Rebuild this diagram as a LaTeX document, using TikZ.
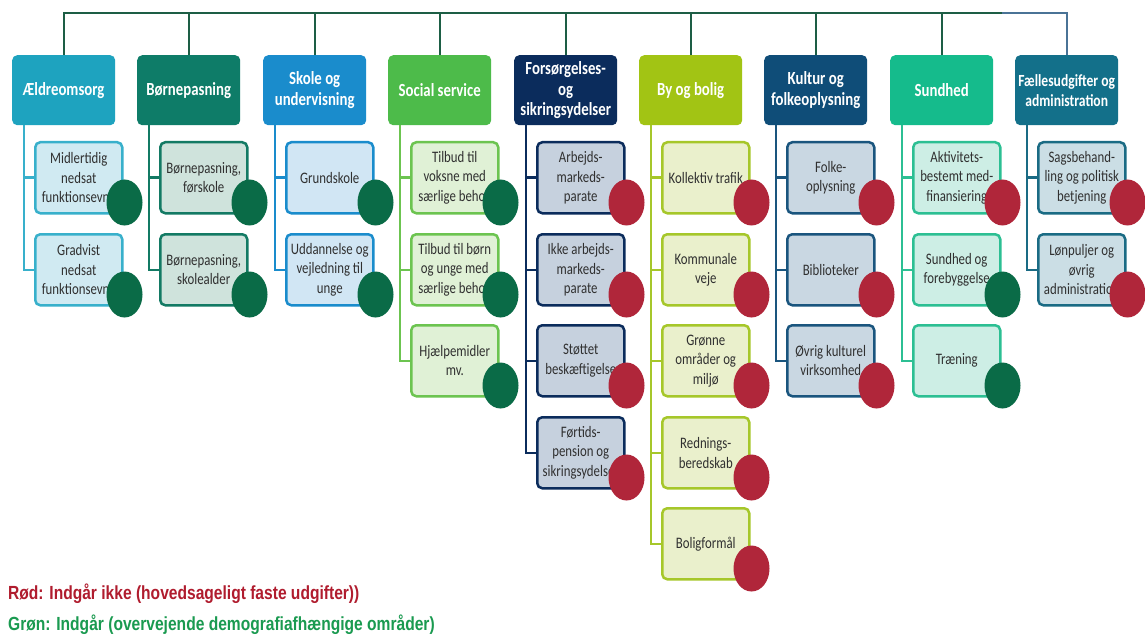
\documentclass[tikz,border=0pt]{standalone}
\usepackage{fontspec}
\usetikzlibrary{shapes.geometric}
\newfontfamily\hfont[FakeStretch=0.8]{Carlito}
\newfontfamily\lfont[FakeStretch=0.82]{Liberation Sans}
\definecolor{hA}{HTML}{1EA3BF}\definecolor{fA}{HTML}{D0EAF2}\definecolor{bA}{HTML}{38B0CB}
\definecolor{hB}{HTML}{0E7C68}\definecolor{fB}{HTML}{CFE3DC}\definecolor{bB}{HTML}{137A64}
\definecolor{hC}{HTML}{1A8CCC}\definecolor{fC}{HTML}{D1E6F4}\definecolor{bC}{HTML}{1A8CCC}
\definecolor{hD}{HTML}{4DBB4A}\definecolor{fD}{HTML}{E0F1D6}\definecolor{bD}{HTML}{6CC450}
\definecolor{hE}{HTML}{0B2C5C}\definecolor{fE}{HTML}{C6D1DE}\definecolor{bE}{HTML}{0B2C5C}
\definecolor{hF}{HTML}{A2C414}\definecolor{fF}{HTML}{EAF0CC}\definecolor{bF}{HTML}{A6C72A}
\definecolor{hG}{HTML}{0F4D78}\definecolor{fG}{HTML}{C9D7E2}\definecolor{bG}{HTML}{1A557E}
\definecolor{hH}{HTML}{15BB8C}\definecolor{fH}{HTML}{CDEEE5}\definecolor{bH}{HTML}{2CBF93}
\definecolor{hI}{HTML}{13708A}\definecolor{fI}{HTML}{CBDEE5}\definecolor{bI}{HTML}{1A6B84}
\definecolor{busc}{HTML}{1D5E45}
\definecolor{busb}{HTML}{4A7396}
\definecolor{dotred}{HTML}{B0263A}
\definecolor{dotgreen}{HTML}{0A6B47}
\definecolor{txt}{HTML}{303030}
\definecolor{legred}{HTML}{B01C2E}
\definecolor{leggreen}{HTML}{1A9A50}
\begin{document}
\begin{tikzpicture}[x=1pt,y=-1pt,
  hdr/.style={draw=none,fill=#1,rounded corners=5pt,minimum width=103pt,minimum height=70pt,
    anchor=north west,text=white,font=\hfont\bfseries\fontsize{18.5}{20.5}\selectfont,align=center,inner sep=0pt},
  child/.style 2 args={draw=#1,fill=#2,rounded corners=5pt,line width=2.5pt,minimum width=87pt,
    minimum height=71pt,anchor=north west,text=txt,font=\hfont\fontsize{16}{19.5}\selectfont,align=center,inner sep=0pt},
  dotR/.style={ellipse,fill=dotred,minimum width=36pt,minimum height=46pt,inner sep=0pt},
  dotG/.style={ellipse,fill=dotgreen,minimum width=36pt,minimum height=46pt,inner sep=0pt},
  bus/.style={draw=busc,line width=2.2pt},
  conn/.style={draw=#1,line width=2.5pt}]
\useasboundingbox[fill=white] (0,0) rectangle (1145,639);
\coordinate (busy) at (0,13);
% headers
\node[hdr=hA] (h1) at (12,55) {Ældreomsorg};
\node[hdr=hB] (h2) at (137,55) {Børnepasning};
\node[hdr=hC] (h3) at (263,55) {Skole og\\undervisning};
\node[hdr=hD] (h4) at (388,55) {Social service};
\node[hdr=hE] (h5) at (514,55) {Forsørgelses-\\og\\sikringsydelser};
\node[hdr=hF] (h6) at (639,55) {By og bolig};
\node[hdr=hG] (h7) at (764,55) {Kultur og\\folkeoplysning};
\node[hdr=hH] (h8) at (890,55) {Sundhed};
\node[hdr=hI,font=\hfont\bfseries\fontsize{17}{20}\selectfont] (h9) at (1015,55) {Fællesudgifter og\\administration};
% bus
\draw[bus] (h1.north) -- (h1.north |- busy) -- (h8.north |- busy);
\coordinate (bmid) at ([xshift=60pt]h8.north |- busy);
\draw[bus] (h8.north |- busy) -- (bmid);
\draw[bus,draw=busb] (bmid) -- (h9.north |- busy) -- (h9.north);
\foreach \i in {2,...,8} {\draw[bus] (h\i.north) -- (h\i.north |- busy);}
% column 1
\node[child={bA}{fA}] (c11) at (34,141) {Midlertidig\\nedsat\\funktionsevne};
\node[child={bA}{fA}] (c12) at (34,233) {Gradvist\\nedsat\\funktionsevne};
% column 2
\node[child={bB}{fB}] (c21) at (159,141) {Børnepasning,\\førskole};
\node[child={bB}{fB}] (c22) at (159,233) {Børnepasning,\\skolealder};
% column 3
\node[child={bC}{fC}] (c31) at (285,141) {Grundskole};
\node[child={bC}{fC}] (c32) at (285,233) {Uddannelse og\\vejledning til\\unge};
% column 4
\node[child={bD}{fD}] (c41) at (410,141) {Tilbud til\\voksne med\\særlige behov};
\node[child={bD}{fD}] (c42) at (410,233) {Tilbud til børn\\og unge med\\særlige behov};
\node[child={bD}{fD}] (c43) at (410,324) {Hjælpemidler\\mv.};
% column 5
\node[child={bE}{fE}] (c51) at (536,141) {Arbejds-\\markeds-\\parate};
\node[child={bE}{fE}] (c52) at (536,233) {Ikke arbejds-\\markeds-\\parate};
\node[child={bE}{fE}] (c53) at (536,324) {Støttet\\beskæftigelse};
\node[child={bE}{fE}] (c54) at (536,416) {Førtids-\\pension og\\sikringsydelser};
% column 6
\node[child={bF}{fF}] (c61) at (661,141) {Kollektiv trafik};
\node[child={bF}{fF}] (c62) at (661,233) {Kommunale\\veje};
\node[child={bF}{fF}] (c63) at (661,324) {Grønne\\områder og\\miljø};
\node[child={bF}{fF}] (c64) at (661,416) {Rednings-\\beredskab};
\node[child={bF}{fF}] (c65) at (661,507) {Boligformål};
% column 7
\node[child={bG}{fG}] (c71) at (786,141) {Folke-\\oplysning};
\node[child={bG}{fG}] (c72) at (786,233) {Biblioteker};
\node[child={bG}{fG}] (c73) at (786,324) {Øvrig kulturel\\virksomhed};
% column 8
\node[child={bH}{fH}] (c81) at (912,141) {Aktivitets-\\bestemt med-\\finansiering};
\node[child={bH}{fH}] (c82) at (912,233) {Sundhed og\\forebyggelse};
\node[child={bH}{fH}] (c83) at (912,324) {Træning};
% column 9
\node[child={bI}{fI}] (c91) at (1037,141) {Sagsbehand-\\ling og politisk\\betjening};
\node[child={bI}{fI}] (c92) at (1037,233) {Lønpuljer og\\øvrig\\administration};
% connectors
\foreach \c/\k/\col in {1/2/bA,2/2/bB,3/2/bC,4/3/bD,5/4/bE,6/5/bF,7/3/bG,8/3/bH,9/2/bI} {
  \foreach \j in {1,...,\k} {
    \draw[conn=\col] ([xshift=12pt]h\c.south west) |- (c\c\j.west);
  }
}
% dots
\foreach \n/\s in {11/G,12/G,21/G,22/G,31/G,32/G,41/G,42/G,43/G,51/R,52/R,53/R,54/R,61/R,62/R,63/R,64/R,65/R,71/R,72/R,73/R,81/R,82/G,83/G,91/R,92/R} {
  \node[dot\s] (d\n) at ([xshift=1pt,yshift=12pt]c\n.south east) {};
}
% legend
\node[anchor=west,inner sep=0pt,text=legred,font=\lfont\bfseries\fontsize{19}{21}\selectfont] (lr) at (8,594) {Rød: Indgår ikke (hovedsageligt faste udgifter))};
\node[anchor=west,inner sep=0pt,text=leggreen,font=\lfont\bfseries\fontsize{19}{21}\selectfont] (lg) at (8,625) {Grøn: Indgår (overvejende demografiafhængige områder)};
\end{tikzpicture}
\end{document}
